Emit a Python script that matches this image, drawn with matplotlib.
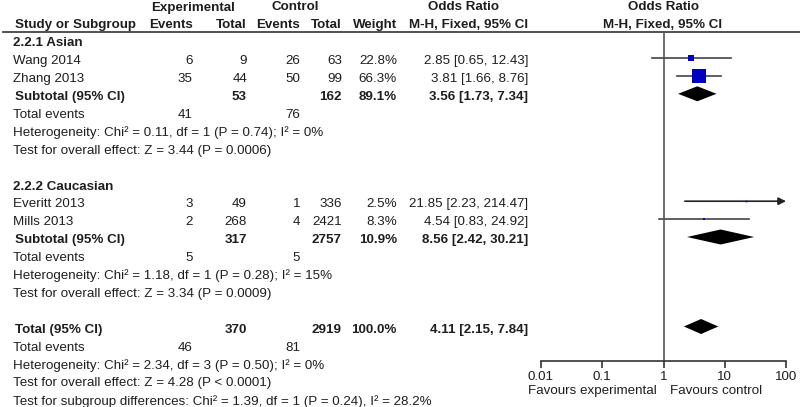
import numpy as np
import matplotlib.pyplot as plt
from matplotlib.ticker import NullLocator

plt.rcParams['font.family'] = ['Liberation Sans', 'DejaVu Sans']

# study level data
studies = ['Wang 2014', 'Zhang 2013', 'Everitt 2013', 'Mills 2013']
study_group = [0, 0, 1, 1]
exp_events = [6, 35, 3, 2]
exp_total = [9, 44, 49, 268]
ctl_events = [26, 50, 1, 4]
ctl_total = [63, 99, 336, 2421]
weight = [22.8, 66.3, 2.5, 8.3]
odds = [2.85, 3.81, 21.85, 4.54]
ci_lo = [0.65, 1.66, 2.23, 0.83]
ci_hi = [12.43, 8.76, 214.47, 24.92]

# subgroup data
groups = ['2.2.1 Asian', '2.2.2 Caucasian']
sub_exp_events = [41, 5]
sub_ctl_events = [76, 5]
sub_exp_total = [53, 317]
sub_ctl_total = [162, 2757]
sub_weight = [89.1, 10.9]
sub_odds = [3.56, 8.56]
sub_lo = [1.73, 2.42]
sub_hi = [7.34, 30.21]
sub_het = ['Heterogeneity: Chi² = 0.11, df = 1 (P = 0.74); I² = 0%',
           'Heterogeneity: Chi² = 1.18, df = 1 (P = 0.28); I² = 15%']
sub_z = ['Test for overall effect: Z = 3.44 (P = 0.0006)',
         'Test for overall effect: Z = 3.34 (P = 0.0009)']

# overall
tot_exp_events, tot_ctl_events = 46, 81
tot_exp_total, tot_ctl_total = 370, 2919
tot_weight = 100.0
tot_odds, tot_lo, tot_hi = 4.11, 2.15, 7.84
tot_het = 'Heterogeneity: Chi² = 2.34, df = 3 (P = 0.50); I² = 0%'
tot_z = 'Test for overall effect: Z = 4.28 (P < 0.0001)'
subgroup_diff = 'Test for subgroup differences: Chi² = 1.39, df = 1 (P = 0.24), I² = 28.2%'

xticks = [0.01, 0.1, 1, 10, 100]
xtick_labels = ['0.01', '0.1', '1', '10', '100']

W, H = 800, 407
FS = 9.6
TXT = '#1e1e1e'
X_NAME, X_EE, X_ET, X_CE, X_CT, X_W, X_OR = 13, 193, 247, 300, 342, 397, 528


def row_y(i):
    return 4.3 + i * 17.9


def put(ax, x, i, s, ha='left', bold=False):
    ax.text(x, row_y(i) + 3.2, s, ha=ha, va='center', fontsize=FS, color=TXT,
            fontweight='bold' if bold else 'normal')


def diamond(ax, est, lo, hi, y, h=7.5):
    ax.fill([lo, est, hi, est], [y, y - h, y, y + h], color='black', lw=0)


fig = plt.figure(figsize=(8, 4.07), dpi=100)
tab = fig.add_axes([0, 0, 1, 1])
tab.set_xlim(0, W)
tab.set_ylim(H, 0)
tab.axis('off')

fp = fig.add_axes([541 / W, 0, 245 / W, 1])
fp.patch.set_visible(False)
fp.set_xscale('log')
fp.set_xlim(0.01, 100)
fp.set_ylim(H, 0)

# headers
put(tab, X_EE, 0, 'Experimental', 'center', True)
put(tab, 295, 0, 'Control', 'center', True)
put(tab, 463, 0, 'Odds Ratio', 'center', True)
put(tab, 663, 0, 'Odds Ratio', 'center', True)
put(tab, 15, 1, 'Study or Subgroup', bold=True)
put(tab, X_EE, 1, 'Events', 'right', True)
put(tab, X_ET, 1, 'Total', 'right', True)
put(tab, X_CE, 1, 'Events', 'right', True)
put(tab, X_CT, 1, 'Total', 'right', True)
put(tab, X_W, 1, 'Weight', 'right', True)
put(tab, X_OR, 1, 'M-H, Fixed, 95% CI', 'right', True)
put(tab, 663, 1, 'M-H, Fixed, 95% CI', 'center', True)
tab.plot([3, W], [32, 32], color='#333333', lw=1.2)

row = 2
for g, gname in enumerate(groups):
    put(tab, X_NAME, row, gname, bold=True)
    row += 1
    for k in range(len(studies)):
        if study_group[k] != g:
            continue
        put(tab, X_NAME, row, studies[k])
        put(tab, X_EE, row, str(exp_events[k]), 'right')
        put(tab, X_ET, row, str(exp_total[k]), 'right')
        put(tab, X_CE, row, str(ctl_events[k]), 'right')
        put(tab, X_CT, row, str(ctl_total[k]), 'right')
        put(tab, X_W, row, f'{weight[k]:.1f}%', 'right')
        put(tab, X_OR, row, f'{odds[k]:.2f} [{ci_lo[k]:.2f}, {ci_hi[k]:.2f}]', 'right')
        y = row_y(row)
        if ci_hi[k] > 100:
            fp.annotate('', xy=(100, y), xytext=(ci_lo[k], y),
                        arrowprops=dict(arrowstyle='-|>', color='#222222', lw=1.2,
                                        mutation_scale=11, shrinkA=0, shrinkB=0))
        else:
            fp.plot([ci_lo[k], ci_hi[k]], [y, y], color='#444444', lw=1.2)
        side = (1.2 + 0.195 * weight[k]) * 0.72
        fp.plot(odds[k], y, 's', color='#0000c0', ms=side, mew=0, zorder=3)
        row += 1
    put(tab, 15, row, 'Subtotal (95% CI)', bold=True)
    put(tab, X_ET, row, str(sub_exp_total[g]), 'right', True)
    put(tab, X_CT, row, str(sub_ctl_total[g]), 'right', True)
    put(tab, X_W, row, f'{sub_weight[g]:.1f}%', 'right', True)
    put(tab, X_OR, row, f'{sub_odds[g]:.2f} [{sub_lo[g]:.2f}, {sub_hi[g]:.2f}]', 'right', True)
    diamond(fp, sub_odds[g], sub_lo[g], sub_hi[g], row_y(row))
    row += 1
    put(tab, X_NAME, row, 'Total events')
    put(tab, X_EE, row, str(sub_exp_events[g]), 'right')
    put(tab, X_CE, row, str(sub_ctl_events[g]), 'right')
    row += 1
    put(tab, X_NAME, row, sub_het[g])
    row += 1
    put(tab, X_NAME, row, sub_z[g])
    row += 2

put(tab, 15, row, 'Total (95% CI)', bold=True)
put(tab, X_ET, row, str(tot_exp_total), 'right', True)
put(tab, X_CT, row, str(tot_ctl_total), 'right', True)
put(tab, X_W, row, f'{tot_weight:.1f}%', 'right', True)
put(tab, X_OR, row, f'{tot_odds:.2f} [{tot_lo:.2f}, {tot_hi:.2f}]', 'right', True)
diamond(fp, tot_odds, tot_lo, tot_hi, row_y(row))
row += 1
put(tab, X_NAME, row, 'Total events')
put(tab, X_EE, row, str(tot_exp_events), 'right')
put(tab, X_CE, row, str(tot_ctl_events), 'right')
put(tab, X_NAME, row + 1, tot_het)
put(tab, X_NAME, row + 2, tot_z)
put(tab, X_NAME, row + 3, subgroup_diff)

# forest axis
axis_y = 361
fp.plot([1, 1], [32, axis_y], color='#555555', lw=1.2)
for side in ['top', 'left', 'right']:
    fp.spines[side].set_visible(False)
fp.spines['bottom'].set_position(('data', axis_y))
fp.spines['bottom'].set_color('#333333')
fp.spines['bottom'].set_linewidth(1.2)
fp.set_xticks(xticks)
fp.set_xticklabels(xtick_labels)
fp.xaxis.set_minor_locator(NullLocator())
fp.tick_params(axis='x', direction='out', length=5, width=1.2, pad=2,
               labelsize=FS, colors='#333333', labelcolor=TXT)
fp.set_yticks([])
tab.text(657, 391, 'Favours experimental', ha='right', va='center', fontsize=FS, color=TXT)
tab.text(670, 391, 'Favours control', ha='left', va='center', fontsize=FS, color=TXT)

fig.savefig('out.png', dpi=100)
